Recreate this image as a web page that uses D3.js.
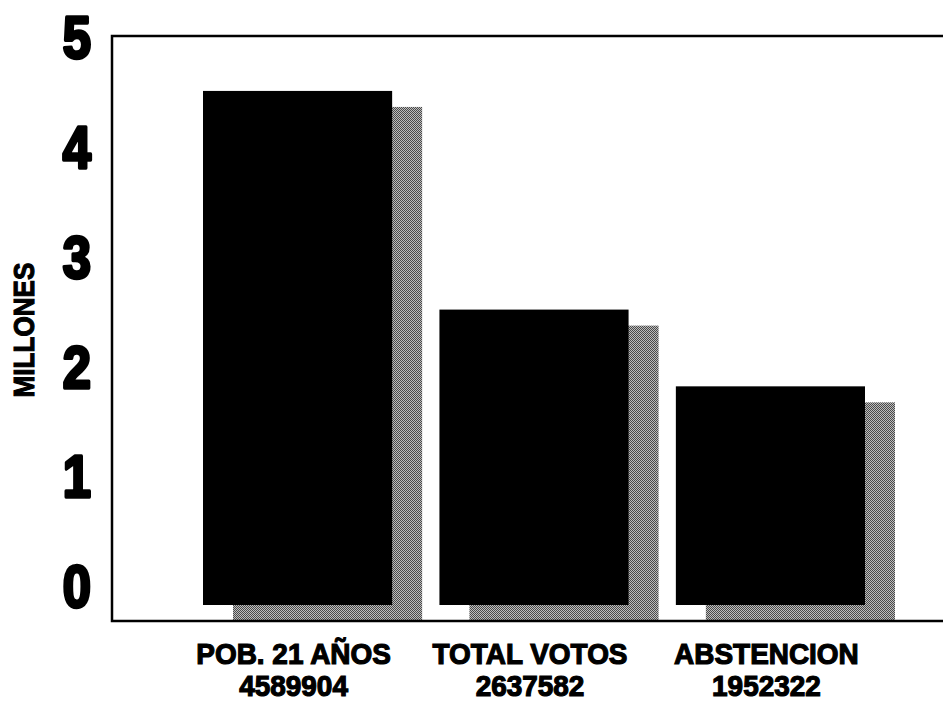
<!DOCTYPE html>
<html>
<head>
<meta charset="utf-8">
<script src="https://cdn.jsdelivr.net/npm/d3@7"></script>
<style>
  html, body { margin: 0; padding: 0; background: #fff; }
  svg { display: block; }
</style>
</head>
<body>
<script>
// ---- data ----
const categories = ["POB. 21 AÑOS", "TOTAL VOTOS", "ABSTENCION"];
const valueLabels = ["4589904", "2637582", "1952322"];
const values = [4.589904, 2.637582, 1.952322]; // millions
const tickValues = [0, 1, 2, 3, 4, 5];
const axisTitle = "MILLONES";

// ---- layout ----
const W = 943, H = 704;
const frameLeft = 112, frameTop = 36, frameBottom = 621;
const shadowDx = 30, shadowDy = 16;
const fontFam = "'Liberation Sans', Arial, sans-serif";

const svg = d3.select("body").append("svg").attr("width", W).attr("height", H);

// dithered grey pattern for shadows
const defs = svg.append("defs");
const pat = defs.append("pattern").attr("id", "dither")
  .attr("width", 2).attr("height", 2).attr("patternUnits", "userSpaceOnUse");
pat.append("rect").attr("width", 2).attr("height", 2).attr("fill", "#bdbdbd");
pat.append("rect").attr("x", 0).attr("y", 0).attr("width", 1).attr("height", 1).attr("fill", "#4a4a4a");
pat.append("rect").attr("x", 1).attr("y", 1).attr("width", 1).attr("height", 1).attr("fill", "#4a4a4a");

const x = d3.scaleBand().domain(categories).range([203, 865]).paddingInner(0.2).paddingOuter(0);
const y = d3.scaleLinear().domain([0, 5]).range([605, 45]);
// tick labels of the original are placed on their own evenly spaced grid
const yLab = d3.scaleLinear().domain([0, 5]).range([586, 37]);

// shadows
svg.selectAll("rect.shadow").data(values).join("rect")
  .attr("class", "shadow")
  .attr("x", (d, i) => x(categories[i]) + shadowDx)
  .attr("y", d => y(d) + shadowDy)
  .attr("width", x.bandwidth())
  .attr("height", d => frameBottom - (y(d) + shadowDy))
  .attr("fill", "url(#dither)");

// bars
svg.selectAll("rect.bar").data(values).join("rect")
  .attr("class", "bar")
  .attr("x", (d, i) => x(categories[i]))
  .attr("y", d => y(d))
  .attr("width", x.bandwidth())
  .attr("height", d => y(0) - y(d))
  .attr("fill", "#000");

// frame
svg.append("path")
  .attr("d", `M${W},${frameTop} L${frameLeft},${frameTop} L${frameLeft},${frameBottom} L${W},${frameBottom}`)
  .attr("fill", "none").attr("stroke", "#000").attr("stroke-width", 2.5);

// y tick labels
svg.selectAll("text.tick").data(tickValues).join("text")
  .attr("class", "tick")
  .attr("transform", d => `translate(91,${yLab(d)}) scale(0.86,1)`)
  .attr("text-anchor", "end")
  .attr("dy", "0.36em")
  .attr("font-family", fontFam)
  .attr("font-weight", "bold")
  .attr("font-size", 59)
  .attr("stroke", "#000").attr("stroke-width", 3.4).attr("stroke-linejoin", "round")
  .attr("fill", "#000")
  .text(d => d);

// y title
svg.append("text")
  .attr("transform", "translate(34,330) rotate(-90) scale(0.9,1)")
  .attr("text-anchor", "middle")
  .attr("font-family", fontFam)
  .attr("font-weight", "bold")
  .attr("font-size", 29)
  .attr("stroke", "#000").attr("stroke-width", 1.1)
  .attr("fill", "#000")
  .text(axisTitle);

// category labels (two lines)
const lab = svg.selectAll("text.cat").data(categories).join("text")
  .attr("class", "cat")
  .attr("transform", d => `translate(${x(d) + x.bandwidth() / 2 - 4},664) scale(0.97,1)`)
  .attr("text-anchor", "middle")
  .attr("font-family", fontFam).attr("font-weight", "bold").attr("font-size", 28.8)
  .attr("stroke", "#000").attr("stroke-width", 1.2);
lab.append("tspan").attr("x", 0).attr("y", 0).text(d => d);
lab.append("tspan").attr("x", 0).attr("y", 32.5).text((d, i) => valueLabels[i]);
</script>
</body>
</html>
